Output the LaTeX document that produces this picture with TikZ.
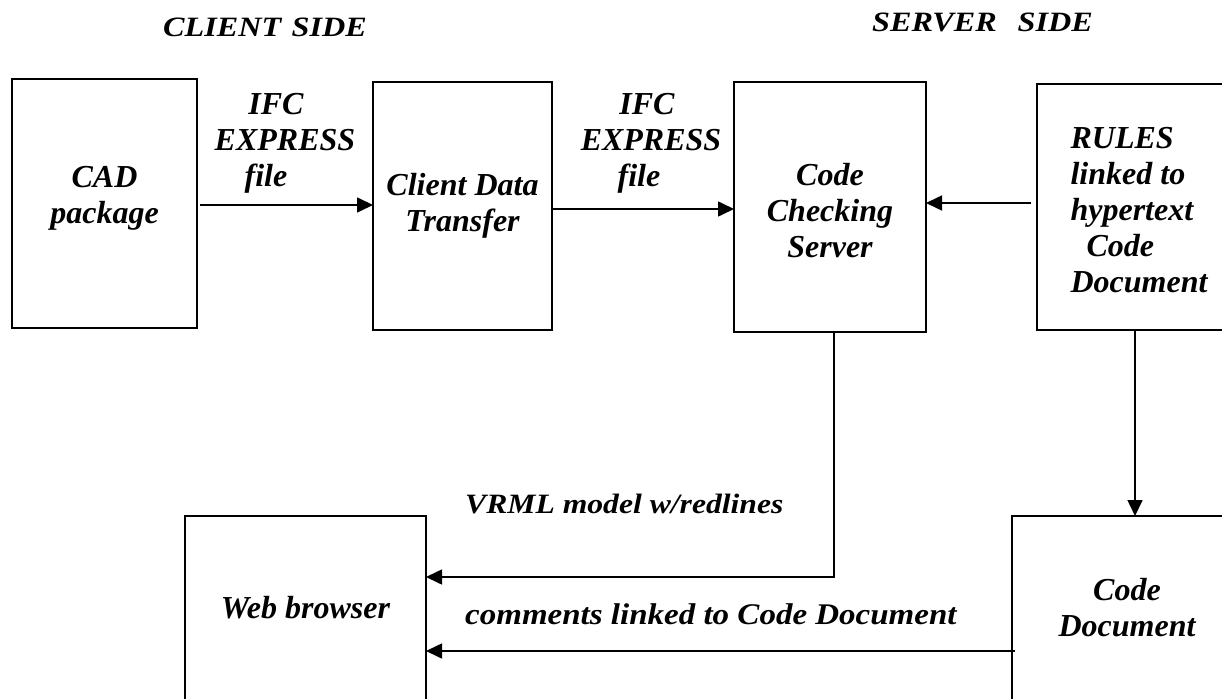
\documentclass[tikz,border=0pt]{standalone}
\usepackage{fontspec}
\setmainfont{Liberation Serif}
\usetikzlibrary{arrows.meta}

\tikzset{
  blk/.style={draw, line width=1.5pt, inner sep=0pt, outer sep=0pt},
  lbl/.style={inner sep=0pt, align=center,
    font=\fontsize{32}{36}\selectfont\bfseries\itshape},
  linelbl/.style={inner sep=0pt, anchor=base west,
    font=\bfseries\itshape},
  flow/.style={line width=1.6pt, -{Triangle[length=16pt,width=15pt]}}
}
\newcommand{\widetext}[3]{{\fontsize{#1}{#1}\selectfont\scalebox{#2}[1]{#3}}}

\begin{document}
\begin{tikzpicture}[x=1pt,y=-1pt]
\useasboundingbox (0,0) rectangle (1222,698);
\clip (0,0) rectangle (1222,698);
\fill[white] (0,0) rectangle (1222,698);

% headings
\node[linelbl] (client) at (163,37) {\widetext{28}{1.15}{CLIENT\hspace{9pt}SIDE}};
\node[linelbl] (server) at (872,32) {\widetext{28}{1.15}{SERVER\hspace{18pt}SIDE}};

% upper row of blocks
\node[blk, minimum width=185pt, minimum height=249pt] (cad) at (104.5,203.5) {};
\node[blk, minimum width=179pt, minimum height=248pt] (cdt) at (462.5,206) {};
\node[blk, minimum width=192pt, minimum height=250pt] (ccs) at (830,207) {};
\node[blk, minimum width=204pt, minimum height=246pt] (rules) at (1139,207) {};

% lower row of blocks
\node[blk, minimum width=241pt, minimum height=184pt] (web) at (305.5,608) {};
\node[blk, minimum width=230pt, minimum height=184pt] (doc) at (1127,608) {};

% block titles
\node[lbl] (cadT) at (104.5,198.5) {CAD\\package};
\node[lbl] (cdtT) at (462.5,206) {Client Data\\Transfer};
\node[lbl] (ccsT) at (830,211) {Code\\Checking\\Server};
\node[lbl, align=left] (rulesT) at (1139,210)
  {RULES\\linked to\\hypertext\\\hspace*{16pt}Code\\Document};
\node[lbl] (webT) at (305.5,608) {Web browser};
\node[lbl] (docT) at (1127,608) {Code\\Document};

% labels on the transfers
\node[lbl] (ifcA) at (276,143) {IFC\\\hspace*{18pt}EXPRESS\\\hspace*{-20pt}file};
\node[lbl] (ifcB) at (647,143) {IFC\\\hspace*{8pt}EXPRESS\\\hspace*{-16pt}file};
\node[linelbl] (vrml) at (465,513) {\widetext{28}{1.13}{VRML model w/redlines}};
\node[linelbl] (cmts) at (465,624) {\widetext{30}{1.1}{comments linked to Code Document}};

% connectors
\draw[flow] ([xshift=3pt]cad.east |- 0,205) -- (cdt.west |- 0,205);
\draw[flow] (cdt.east |- 0,209) -- (ccs.west |- 0,209);
\draw[flow] ([xshift=-6pt]rules.west |- 0,203) -- (ccs.east |- 0,203);
\coordinate (turn) at (834,577);
\draw[flow] (ccs.south -| turn) -- (turn) -- (web.east |- turn);
\draw[flow] (rules.south -| 1135,0) -- (doc.north -| 1135,0);
\draw[flow] ([xshift=3pt]doc.west |- 0,651) -- (web.east |- 0,651);
\end{tikzpicture}
\end{document}
